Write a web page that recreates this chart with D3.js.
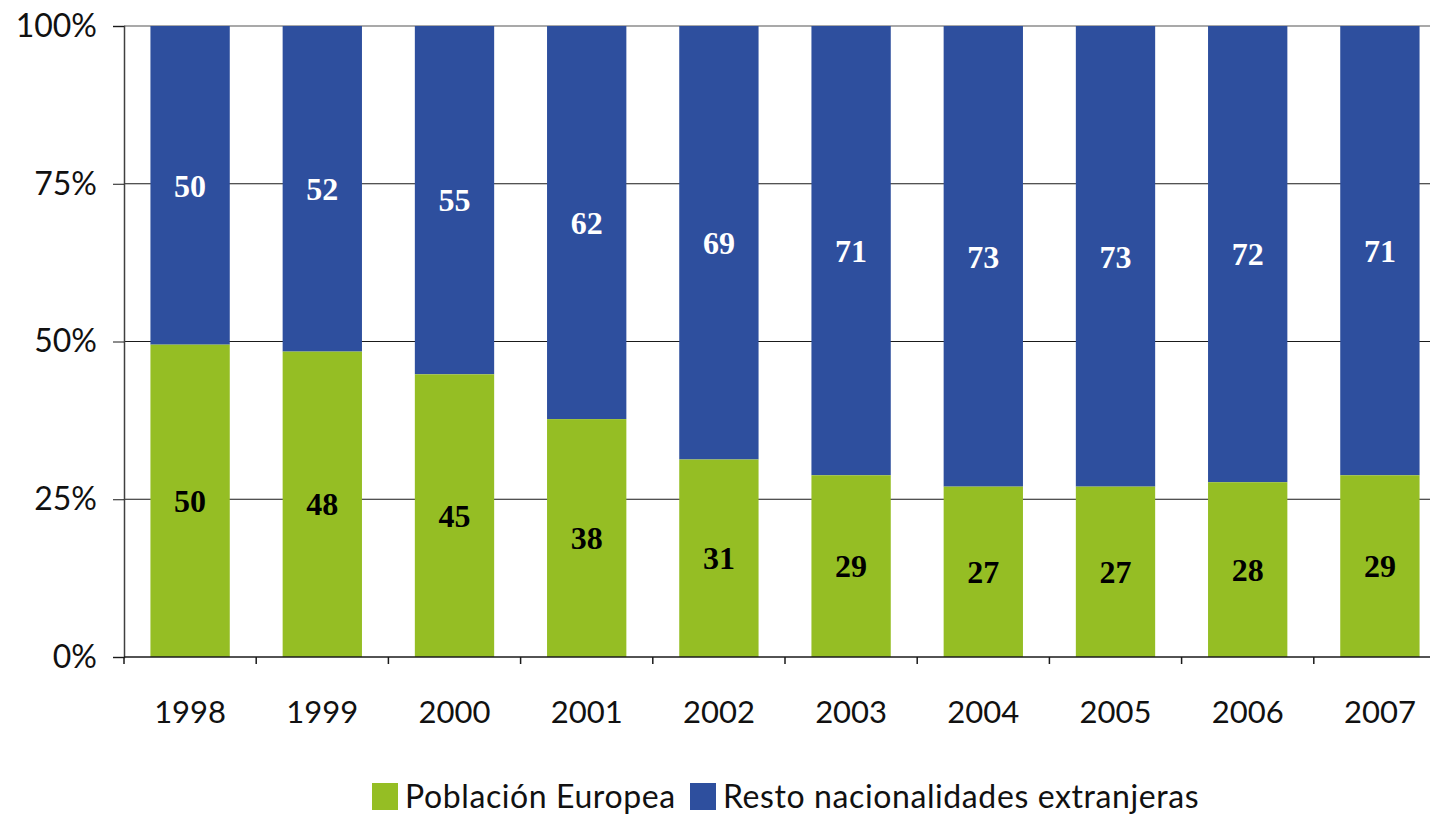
<!DOCTYPE html>
<html lang="es">
<head>
<meta charset="UTF-8">
<title>Población extranjera</title>
<script src="https://d3js.org/d3.v7.min.js"></script>
<style>
body { margin: 0; background: #fff; }
text { font-family: Lato, "Open Sans", sans-serif; }
</style>
</head>
<body>
<div id="chart"></div>
<script>
// data
const years = ["1998", "1999", "2000", "2001", "2002", "2003", "2004", "2005", "2006", "2007"];
const europea = [49.5, 48.4, 44.8, 37.7, 31.3, 28.8, 27.0, 27.0, 27.7, 28.8];
const europeaLabels = ["50", "48", "45", "38", "31", "29", "27", "27", "28", "29"];
const restoLabels = ["50", "52", "55", "62", "69", "71", "73", "73", "72", "71"];
const yTicks = [0, 25, 50, 75, 100];
const seriesNames = ["Población Europea", "Resto nacionalidades extranjeras"];
const colors = ["#95be24", "#2e4f9e"];

const width = 1430, height = 817;
const plotLeft = 124, plotTop = 26, plotBottom = 657, plotRight = 1446;

const svg = d3.select("#chart").append("svg")
  .attr("width", width).attr("height", height);

const x = d3.scaleBand().domain(years).range([plotLeft, plotRight])
  .paddingInner(0.4).paddingOuter(0.2);
const y = d3.scaleLinear().domain([0, 100]).range([plotBottom, plotTop]);

// grid lines
svg.selectAll(".grid").data(yTicks.filter(d => d > 0))
  .join("line")
  .attr("x1", plotLeft).attr("x2", width)
  .attr("y1", d => y(d)).attr("y2", d => y(d))
  .attr("stroke", d => d === 100 ? "#8c8c8c" : "#1a1a1a")
  .attr("stroke-width", d => d === 100 ? 1.5 : 1);

// bars
const rows = years.map((yr, i) => ({ yr, e: europea[i], el: europeaLabels[i], rl: restoLabels[i] }));

svg.selectAll(".resto").data(rows).join("rect")
  .attr("x", d => x(d.yr)).attr("width", x.bandwidth())
  .attr("y", y(100)).attr("height", d => y(d.e) - y(100))
  .attr("fill", colors[1]);

svg.selectAll(".euro").data(rows).join("rect")
  .attr("x", d => x(d.yr)).attr("width", x.bandwidth())
  .attr("y", d => y(d.e)).attr("height", d => y(0) - y(d.e))
  .attr("fill", colors[0]);

// value labels
const serif = "'Liberation Serif', 'Times New Roman', serif";
svg.selectAll(".lr").data(rows).join("text")
  .attr("x", d => x(d.yr) + x.bandwidth() / 2)
  .attr("y", d => (y(100) + y(d.e)) / 2)
  .attr("text-anchor", "middle").attr("dy", "0.35em")
  .style("font-family", serif).style("font-weight", "bold").style("font-size", "32px")
  .attr("fill", "#fff").text(d => d.rl);
svg.selectAll(".le").data(rows).join("text")
  .attr("x", d => x(d.yr) + x.bandwidth() / 2)
  .attr("y", d => (y(0) + y(d.e)) / 2)
  .attr("text-anchor", "middle").attr("dy", "0.35em")
  .style("font-family", serif).style("font-weight", "bold").style("font-size", "32px")
  .attr("fill", "#000").text(d => d.el);

// y axis
const yAxis = svg.append("g").attr("transform", `translate(${plotLeft},0)`)
  .call(d3.axisLeft(y).tickValues(yTicks).tickFormat(d => d + "%").tickSize(11).tickPadding(16));
yAxis.select(".domain").attr("stroke", "#404040").attr("stroke-width", 1.5);
yAxis.selectAll(".tick line").attr("stroke", "#1a1a1a");
yAxis.selectAll("text").style("font-size", "32px").style("font-family", "Lato, sans-serif").attr("fill", "#111");

// x axis
const step = x.step();
const xAxis = svg.append("g").attr("transform", `translate(0,${plotBottom})`);
xAxis.append("line").attr("x1", plotLeft).attr("x2", width).attr("stroke", "#1a1a1a").attr("stroke-width", 1.5);
xAxis.selectAll(".xt").data(d3.range(years.length + 1)).join("line")
  .attr("x1", i => plotLeft + i * step).attr("x2", i => plotLeft + i * step)
  .attr("y1", 0).attr("y2", 7).attr("stroke", "#1a1a1a").attr("stroke-width", 1.5);
xAxis.selectAll(".xl").data(years).join("text")
  .attr("x", d => x(d) + x.bandwidth() / 2).attr("y", 66)
  .attr("text-anchor", "middle").style("font-size", "31px").attr("fill", "#111")
  .text(d => d);

// legend
const lg = svg.append("g");
const legendX = [372, 690];
seriesNames.forEach((name, i) => {
  lg.append("rect").attr("x", legendX[i]).attr("y", 783).attr("width", 26).attr("height", 27).attr("fill", colors[i]);
  lg.append("text").attr("x", legendX[i] + 33).attr("y", 808)
    .style("font-size", "32px").style("letter-spacing", "0.6px").attr("fill", "#111").text(name);
});
</script>
</body>
</html>
